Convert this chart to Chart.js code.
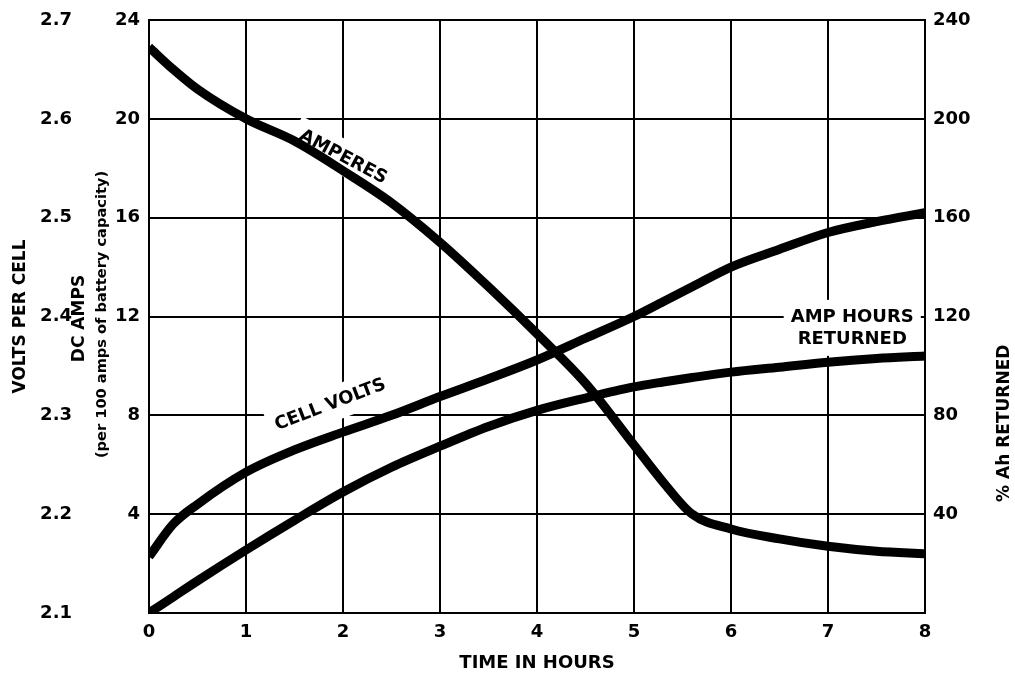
<!DOCTYPE html>
<html lang="en">
<head>
  <meta charset="UTF-8">
  <title>Charge curve</title>
  <script src="https://cdn.jsdelivr.net/npm/chart.js"></script>
  <style>
    html, body { margin: 0; padding: 0; background: #fff; }
    #wrap { width: 1015px; height: 677px; }
  </style>
</head>
<body>
<div id="wrap"><canvas id="myChart" width="1015" height="677"></canvas></div>

<script>
  // time in hours (shared by all three curves)
  const hours      = [0, 0.25, 0.5, 1, 1.5, 2, 2.5, 3, 3.5, 4, 4.5, 5, 5.3, 5.6, 6, 6.5, 7, 7.5, 8];
  // DC amps per 100 Ah of battery capacity
  const amperes    = [22.9, 22.0, 21.2, 20.0, 19.1, 17.9, 16.6, 15.0, 13.2, 11.3, 9.3, 6.8, 5.3, 4.0, 3.4, 3.0, 2.7, 2.5, 2.4];
  // volts per cell
  const cellVolts  = [2.157, 2.19, 2.21, 2.2425, 2.265, 2.283, 2.300, 2.319, 2.337, 2.356, 2.378, 2.400, 2.415, 2.430, 2.450, 2.468, 2.485, 2.496, 2.505];
  // % Ah returned
  const ahReturned = [0, 6.5, 13, 25.5, 37.5, 49, 59, 67.5, 75.5, 82, 87, 91.5, 93.5, 95.3, 97.5, 99.5, 101.5, 103, 104];

  // axis ranges: [min, max, step]
  const hourRange = [0, 8, 1];
  const voltRange = [2.1, 2.7, 0.1];
  const ampRange  = [0, 24, 4];
  const pctRange  = [0, 240, 40];

  // text on the curves (position in hours / amps)
  const curveLabels = [
    { lines: ['AMPERES'], hour: 2.0, amps: 18.45, angle: 28 },
    { lines: ['CELL VOLTS'], hour: 1.87, amps: 8.42, angle: -21 },
    { lines: ['AMP HOURS', 'RETURNED'], hour: 7.25, amps: 11.54, angle: 0 }
  ];

  const FONT = 'DejaVu Sans';

  function pts(vals) {
    return hours.map((h, i) => ({ x: h, y: vals[i] }));
  }

  const labelPlugin = {
    id: 'curveLabels',
    beforeDatasetsDraw(chart) {
      const ctx = chart.ctx;
      const xs = chart.scales.x, ys = chart.scales.amps;
      curveLabels.forEach(l => {
        const px = xs.getPixelForValue(l.hour);
        const py = ys.getPixelForValue(l.amps);
        ctx.save();
        ctx.translate(px, py);
        ctx.rotate(l.angle * Math.PI / 180);
        ctx.font = 'bold 18px "' + FONT + '"';
        ctx.textAlign = 'center';
        ctx.textBaseline = 'middle';
        const lh = 22;
        const w = Math.max(...l.lines.map(t => ctx.measureText(t).width));
        const h = lh * l.lines.length;
        ctx.fillStyle = '#fff';
        ctx.fillRect(-w / 2 - 7, -h / 2 - 6, w + 14, h + 12);
        ctx.fillStyle = '#000';
        l.lines.forEach((t, i) => {
          ctx.fillText(t, 0, -h / 2 + lh / 2 + i * lh);
        });
        ctx.restore();
      });
    }
  };

  function vText(ctx, text, x, y, font) {
    ctx.save();
    ctx.translate(x, y);
    ctx.rotate(-Math.PI / 2);
    ctx.font = font;
    ctx.textAlign = 'center';
    ctx.textBaseline = 'middle';
    ctx.fillStyle = '#000';
    ctx.fillText(text, 0, 0);
    ctx.restore();
  }

  const sideTitles = {
    id: 'sideTitles',
    afterDraw(chart) {
      const ctx = chart.ctx, area = chart.chartArea;
      const amps = chart.scales.amps, pct = chart.scales.pct;
      const midY = (area.top + area.bottom) / 2;
      vText(ctx, 'DC AMPS', amps.right - 69, midY + 2, 'bold 17px "' + FONT + '"');
      vText(ctx, '(per 100 amps of battery capacity)', amps.right - 47, midY - 2, 'bold 14.6px "' + FONT + '"');
      vText(ctx, '% Ah RETURNED', pct.left + 80, area.top + (area.bottom - area.top) * 0.68, 'bold 17px "' + FONT + '"');
    }
  };

  const tickFont = { family: FONT, size: 18, weight: 'bold' };

  const config = {
    type: 'line',
    data: {
      datasets: [
        { label: 'Amperes', data: pts(amperes), yAxisID: 'amps' },
        { label: 'Cell volts', data: pts(cellVolts), yAxisID: 'volts' },
        { label: 'Amp hours returned', data: pts(ahReturned), yAxisID: 'pct' }
      ]
    },
    options: {
      responsive: false,
      animation: false,
      layout: { padding: { top: 20, left: 0, right: 0, bottom: 0 } },
      elements: {
        line: { borderColor: '#000', borderWidth: 9, cubicInterpolationMode: 'monotone', borderJoinStyle: 'round' },
        point: { radius: 0 }
      },
      plugins: { legend: { display: false }, tooltip: { enabled: false } },
      scales: {
        x: {
          type: 'linear',
          min: hourRange[0], max: hourRange[1],
          afterFit(s) { s.height = 64; },
          ticks: { stepSize: hourRange[2], color: '#000', font: tickFont, padding: 9 },
          grid: { color: '#000', lineWidth: 2, drawTicks: false },
          border: { color: '#000', width: 2 },
          title: { display: true, text: 'TIME IN HOURS', color: '#000', font: { family: FONT, size: 18, weight: 'bold' }, padding: { top: 0, bottom: 3 } }
        },
        volts: {
          type: 'linear', position: 'left', weight: 10,
          min: voltRange[0], max: voltRange[1],
          afterFit(s) { s.width = 78; },
          ticks: { stepSize: voltRange[2], color: '#000', font: tickFont, padding: 6, callback: v => v.toFixed(1) },
          grid: { display: false, drawTicks: false },
          border: { display: false },
          title: { display: true, text: 'VOLTS PER CELL', color: '#000', font: { family: FONT, size: 17, weight: 'bold' }, padding: { top: 10, bottom: 0 } }
        },
        amps: {
          type: 'linear', position: 'left', weight: 0,
          min: ampRange[0], max: ampRange[1],
          afterFit(s) { s.width = 71; },
          ticks: { stepSize: ampRange[2], color: '#000', font: tickFont, padding: 9, callback: v => v === 0 ? '' : v },
          grid: { color: '#000', lineWidth: 2, drawTicks: false },
          border: { color: '#000', width: 2 }
        },
        pct: {
          type: 'linear', position: 'right',
          min: pctRange[0], max: pctRange[1],
          afterFit(s) { s.width = 90; },
          ticks: { stepSize: pctRange[2], color: '#000', font: tickFont, padding: 8, callback: v => v === 0 ? '' : v },
          grid: { display: false, drawTicks: false },
          border: { color: '#000', width: 2 }
        }
      }
    },
    plugins: [labelPlugin, sideTitles]
  };

  const chart = new Chart(document.getElementById('myChart'), config);
</script>
</body>
</html>
